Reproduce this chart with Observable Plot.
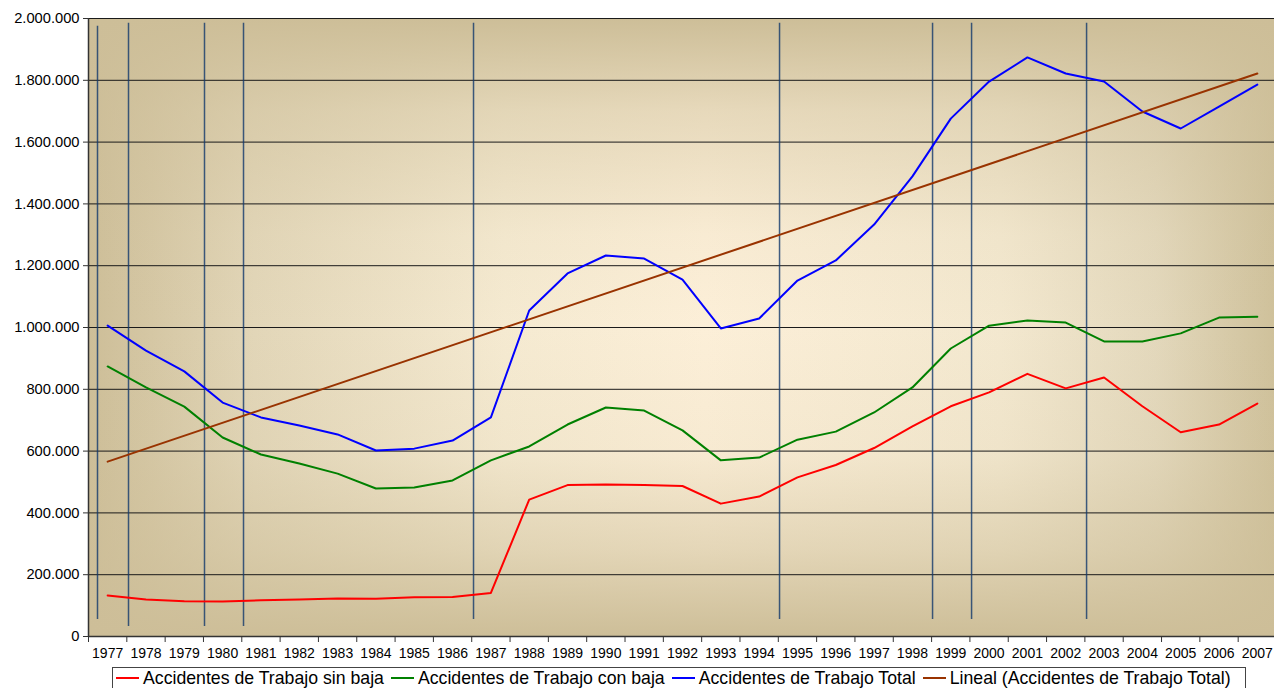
<!DOCTYPE html>
<html><head><meta charset="utf-8">
<script src="https://cdn.jsdelivr.net/npm/d3@7"></script>
<script src="https://cdn.jsdelivr.net/npm/@observablehq/plot@0.6"></script>
<style>
body{margin:0;background:#fff;font-family:"Liberation Sans",Arial,sans-serif;}
#wrap{position:relative;width:1274px;height:688px;overflow:hidden;}
#legend{position:absolute;left:112px;top:667px;height:26px;border:1px solid #444;box-sizing:border-box;display:flex;align-items:flex-start;padding:0 14px 0 3px;font-size:17.7px;line-height:20px;white-space:nowrap;background:#fff;color:#000}
.item{display:flex;align-items:center;margin-right:7px}
.item:last-child{margin-right:0}
.sw{width:23px;height:2px;margin-right:4px}
</style></head><body><div id="wrap"></div>
<script>
const years = [1977,1978,1979,1980,1981,1982,1983,1984,1985,1986,1987,1988,1989,1990,1991,1992,1993,1994,1995,1996,1997,1998,1999,2000,2001,2002,2003,2004,2005,2006,2007];
const sinBaja = [133000,120000,114000,113000,117000,120000,123000,122000,127000,128000,141000,443000,490000,492000,490000,487000,430000,453000,515000,555000,610000,680000,745000,790000,850000,803000,838000,745000,661000,686000,754000];
const conBaja = [874000,806000,744000,644000,589000,560000,527000,479000,482000,505000,570000,615000,686000,741000,731000,667000,570000,579000,637000,663000,725000,806000,932000,1006000,1023000,1016000,955000,955000,981000,1032000,1035000];
const total = [1006000,925000,858000,757000,709000,683000,654000,602000,608000,634000,709000,1055000,1175000,1233000,1223000,1155000,997000,1029000,1152000,1217000,1333000,1489000,1676000,1796000,1874000,1822000,1796000,1699000,1644000,1715000,1786000];
const yTicks = [0,200000,400000,600000,800000,1000000,1200000,1400000,1600000,1800000,2000000];
const markerX = [1976.735,1977.544,1979.527,1980.545,1986.547,1994.532,1998.525,1999.543,2002.544];
const markerTop = [1975000,1985000,1985000,1985000,1985000,1985000,1985000,1985000,1985000];
const markerBottom = [55000,32000,32000,32000,55000,55000,55000,55000,55000];
const seriesNames = ["Accidentes de Trabajo sin baja","Accidentes de Trabajo con baja","Accidentes de Trabajo Total","Lineal (Accidentes de Trabajo Total)"];
const seriesColors = ["#ff0000","#008000","#0000ff","#993300"];

const rows = years.map((y,i)=>({year:y, sin:sinBaja[i], con:conBaja[i], total:total[i]}));
const markers = markerX.map((x,i)=>({x, y1:markerTop[i], y2:markerBottom[i]}));
const boundaries = years.map(y=>y-0.5).concat([years[years.length-1]+0.5]);
const fmt = d3.formatLocale({decimal:",", thousands:".", grouping:[3], currency:["","€"]}).format(",d");

const plot = Plot.plot({
  width:1274, height:667, marginTop:18, marginBottom:31, marginLeft:88, marginRight:0,
  style:{fontFamily:"'Liberation Sans', Arial, sans-serif", background:"transparent", color:"#000", overflow:"visible"},
  x:{domain:[boundaries[0], boundaries[boundaries.length-1]], range:[88,1276], axis:null},
  y:{domain:[0,2000000], axis:null},
  marks:[
    Plot.frame({fill:"url(#bgx)", stroke:"none"}),
    Plot.frame({fill:"url(#bgy)", stroke:"none"}),
    Plot.ruleY(yTicks.filter(d=>d>0), {stroke:"#1a1a1a", strokeWidth:1}),
    Plot.ruleX(markers, {x:"x", y1:"y1", y2:"y2", stroke:"#12386b", strokeWidth:1.5, strokeOpacity:0.8}),
    Plot.line(rows, {x:"year", y:"sin", stroke:seriesColors[0], strokeWidth:2}),
    Plot.line(rows, {x:"year", y:"con", stroke:seriesColors[1], strokeWidth:2}),
    Plot.line(rows, {x:"year", y:"total", stroke:seriesColors[2], strokeWidth:2}),
    Plot.linearRegressionY(rows, {x:"year", y:"total", stroke:seriesColors[3], strokeWidth:2, ci:0}),
    Plot.ruleX([boundaries[0]], {stroke:"#333", strokeWidth:1.5, y1:0, y2:2000000}),
    Plot.ruleY([0], {stroke:"#333", strokeWidth:1.5}),
    Plot.axisY({ticks:yTicks, tickFormat:fmt, tickSize:5, tickPadding:4, fontSize:14.7, stroke:"#333"}),
    Plot.axisX({ticks:boundaries, tickFormat:()=>"", tickSize:6, stroke:"#333"}),
    Plot.text(years, {x:d=>d, text:d=>String(d), frameAnchor:"bottom", dy:21, fontSize:14, fill:"#000"})
  ]
});

d3.select(plot).insert("defs", ":first-child").html(`
  <linearGradient id="bgx" x1="0" y1="0" x2="1" y2="0">
    <stop offset="0" stop-color="#cdbe98"/>
    <stop offset="0.14" stop-color="#e2d6b8"/>
    <stop offset="0.35" stop-color="#f5ead1"/>
    <stop offset="0.52" stop-color="#fcefd8"/>
    <stop offset="0.77" stop-color="#f3e8cf"/>
    <stop offset="0.9" stop-color="#e3d8bc"/>
    <stop offset="1" stop-color="#cfc19b"/>
  </linearGradient>
  <linearGradient id="bgy" x1="0" y1="0" x2="0" y2="1">
    <stop offset="0" stop-color="#cdbe98" stop-opacity="1"/>
    <stop offset="0.15" stop-color="#cdbe98" stop-opacity="0.45"/>
    <stop offset="0.35" stop-color="#cdbe98" stop-opacity="0.08"/>
    <stop offset="0.5" stop-color="#cdbe98" stop-opacity="0"/>
    <stop offset="0.7" stop-color="#cdbe98" stop-opacity="0.1"/>
    <stop offset="0.86" stop-color="#cdbe98" stop-opacity="0.5"/>
    <stop offset="1" stop-color="#cdbe98" stop-opacity="1"/>
  </linearGradient>`);

const wrap = document.getElementById("wrap");
wrap.appendChild(plot);
const legend = document.createElement("div");
legend.id = "legend";
seriesNames.forEach((name,i)=>{
  const item = document.createElement("div");
  item.className = "item";
  const sw = document.createElement("span");
  sw.className = "sw";
  sw.style.background = seriesColors[i];
  const t = document.createElement("span");
  t.textContent = name;
  item.appendChild(sw); item.appendChild(t);
  legend.appendChild(item);
});
wrap.appendChild(legend);
</script></body></html>
